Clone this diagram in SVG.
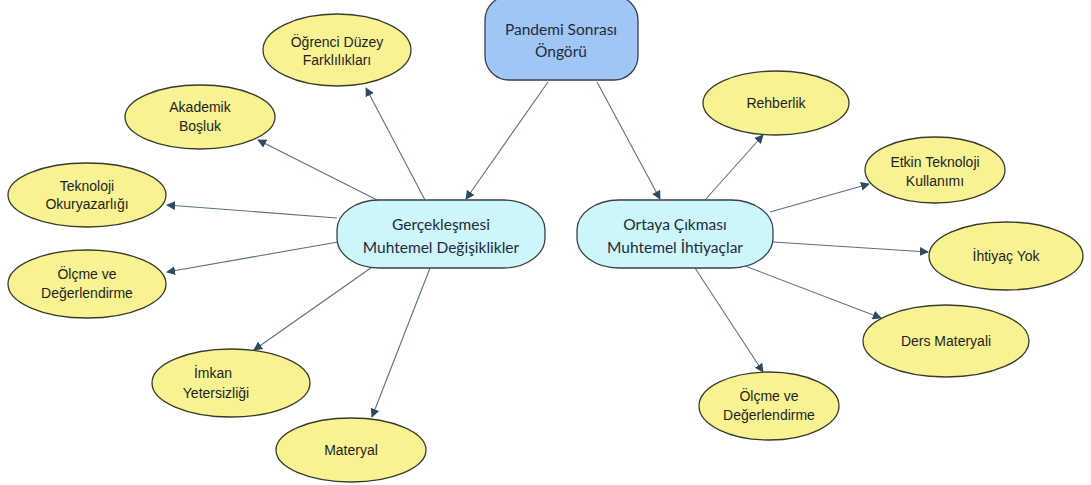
<svg xmlns="http://www.w3.org/2000/svg" width="1091" height="485" viewBox="0 0 1091 485">
<defs>
<marker id="ah" viewBox="0 0 10 10" refX="9" refY="5" markerWidth="9" markerHeight="9" markerUnits="userSpaceOnUse" orient="auto">
<path d="M0,0 L10,5 L0,10 z" fill="#2f4a5e"/>
</marker>
<style>
.bg{fill:#ffffff}
.ell{fill:#f8f392;stroke:#3a3a2a;stroke-width:1.3}
.mid{fill:#cdf6fb;stroke:#3a4048;stroke-width:1.3}
.top{fill:#9fc6f4;stroke:#3a4048;stroke-width:1.3}
.t{font-family:"Liberation Sans",Arial,sans-serif;font-size:14px;fill:#1e1e1e;text-anchor:middle}
.tm{font-family:Lato,"Open Sans","Liberation Sans",sans-serif;font-size:15.5px;fill:#1f2b3a;text-anchor:middle}
.c{stroke:#5d6f80;stroke-width:1.1;fill:none;marker-end:url(#ah)}
</style>
</defs>
<rect class="bg" x="0" y="0" width="1091" height="485"/>
<g id="connectors">
<line class="c" x1="548" y1="82" x2="466" y2="199"/>
<line class="c" x1="597" y1="82" x2="660" y2="199"/>
<line class="c" x1="425" y1="200" x2="366" y2="88"/>
<line class="c" x1="383" y1="203" x2="258" y2="140"/>
<line class="c" x1="337" y1="218" x2="167" y2="205"/>
<line class="c" x1="338" y1="242" x2="167" y2="272"/>
<line class="c" x1="375" y1="265" x2="254" y2="350"/>
<line class="c" x1="430" y1="268" x2="372" y2="417"/>
<line class="c" x1="705" y1="200" x2="763" y2="135"/>
<line class="c" x1="770" y1="212" x2="869" y2="184"/>
<line class="c" x1="773" y1="242" x2="928" y2="252"/>
<line class="c" x1="745" y1="266" x2="881" y2="318"/>
<line class="c" x1="695" y1="268" x2="763" y2="372"/>
</g>
<g id="n-top">
<rect class="top" x="485" y="-4" width="153" height="84" rx="24" ry="24"/>
<text class="tm" x="561" y="35">Pandemi Sonrası</text>
<text class="tm" x="561" y="57">Öngörü</text>
</g>
<g id="n-left">
<rect class="mid" x="337" y="200" width="208" height="68" rx="42" ry="30"/>
<text class="tm" x="441" y="230">Gerçekleşmesi</text>
<text class="tm" x="441" y="253">Muhtemel Değişiklikler</text>
</g>
<g id="n-right">
<rect class="mid" x="577" y="200" width="196" height="68" rx="42" ry="30"/>
<text class="tm" x="675" y="230">Ortaya Çıkması</text>
<text class="tm" x="675" y="253">Muhtemel İhtiyaçlar</text>
</g>
<g id="n-ogrenci">
<ellipse class="ell" cx="337" cy="50" rx="74" ry="36"/>
<text class="t" x="337" y="47">Öğrenci Düzey</text>
<text class="t" x="337" y="65">Farklılıkları</text>
</g>
<g id="n-akademik">
<ellipse class="ell" cx="200" cy="117" rx="75" ry="32"/>
<text class="t" x="200" y="112">Akademik</text>
<text class="t" x="200" y="131">Boşluk</text>
</g>
<g id="n-teknoloji">
<ellipse class="ell" cx="87" cy="195" rx="79" ry="32"/>
<text class="t" x="87" y="191">Teknoloji</text>
<text class="t" x="87" y="209">Okuryazarlığı</text>
</g>
<g id="n-olcme-l">
<ellipse class="ell" cx="87" cy="284" rx="79" ry="34"/>
<text class="t" x="87" y="279">Ölçme ve</text>
<text class="t" x="87" y="298">Değerlendirme</text>
</g>
<g id="n-imkan">
<ellipse class="ell" cx="231" cy="383" rx="79" ry="34"/>
<text class="t" x="213" y="378">İmkan</text>
<text class="t" x="216" y="398">Yetersizliği</text>
</g>
<g id="n-materyal">
<ellipse class="ell" cx="351" cy="450" rx="75" ry="32"/>
<text class="t" x="351" y="455">Materyal</text>
</g>
<g id="n-rehberlik">
<ellipse class="ell" cx="776" cy="103" rx="73" ry="32"/>
<text class="t" x="776" y="108">Rehberlik</text>
</g>
<g id="n-etkin">
<ellipse class="ell" cx="935" cy="170" rx="70" ry="33"/>
<text class="t" x="935" y="167">Etkin Teknoloji</text>
<text class="t" x="935" y="186">Kullanımı</text>
</g>
<g id="n-ihtiyac">
<ellipse class="ell" cx="1006" cy="256" rx="77" ry="34"/>
<text class="t" x="1006" y="261">İhtiyaç Yok</text>
</g>
<g id="n-ders">
<ellipse class="ell" cx="946" cy="341" rx="83" ry="36"/>
<text class="t" x="946" y="346">Ders Materyali</text>
</g>
<g id="n-olcme-r">
<ellipse class="ell" cx="769" cy="406" rx="70" ry="34"/>
<text class="t" x="769" y="401">Ölçme ve</text>
<text class="t" x="769" y="420">Değerlendirme</text>
</g>
</svg>
